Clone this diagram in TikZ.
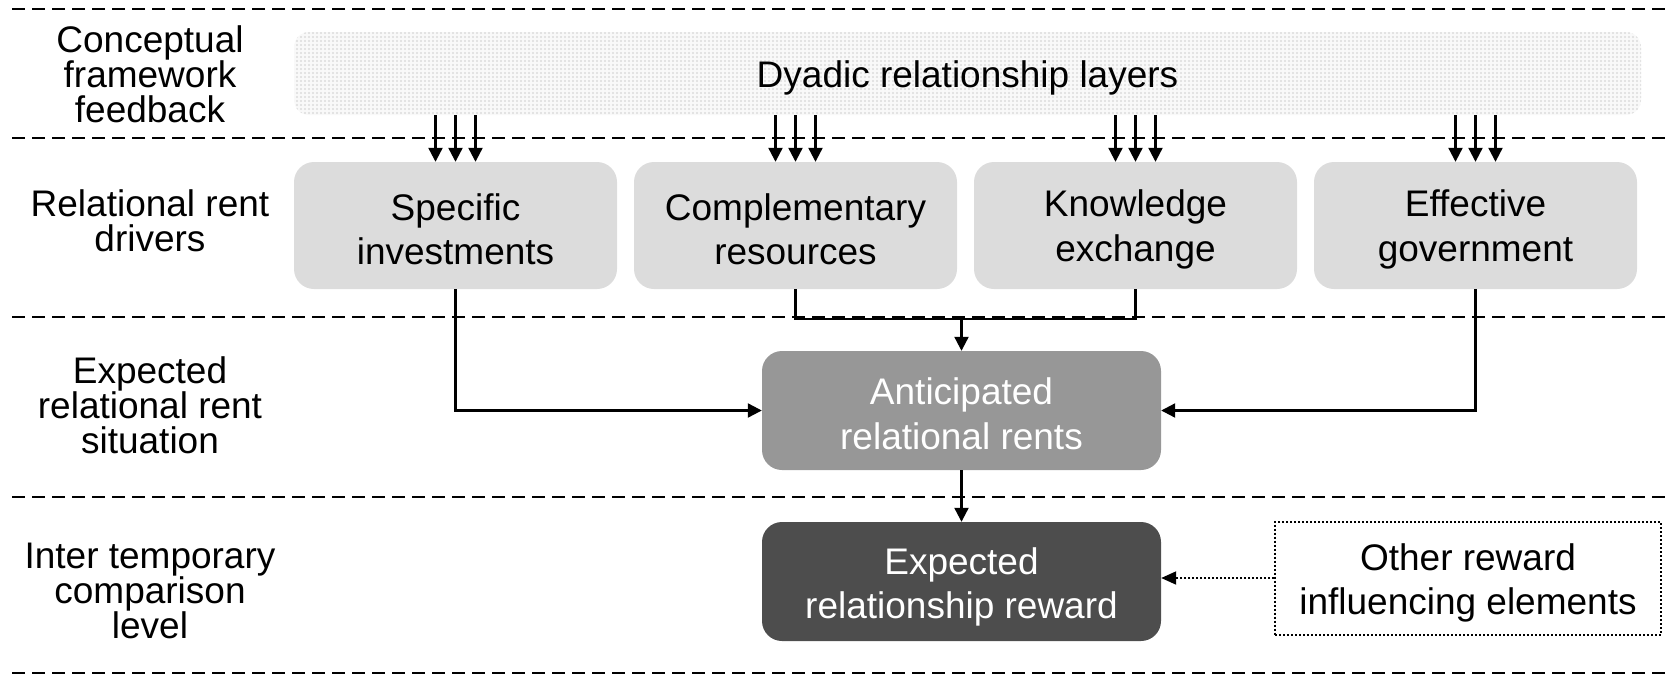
\documentclass[tikz,border=0pt]{standalone}
\usepackage{fontspec}
\setmainfont{Liberation Sans}
\usetikzlibrary{arrows.meta,patterns}

\definecolor{driverfill}{HTML}{DCDCDC}
\definecolor{rentfill}{HTML}{979797}
\definecolor{rewardfill}{HTML}{4D4D4D}

% coarse dot screen for the feedback layer
\pgfdeclarepatternformonly{layerdots}{\pgfqpoint{-1pt}{-1pt}}{\pgfqpoint{3pt}{3pt}}{\pgfqpoint{4pt}{4pt}}{%
  \pgfpathcircle{\pgfqpoint{1pt}{1pt}}{1.05pt}\pgfusepath{fill}}

\tikzset{
  separator/.style={line width=2pt, dash pattern=on 13pt off 7pt},
  levellabel/.style={align=center, font=\fontsize{37}{35}\selectfont},
  boxtext/.style={align=center, font=\fontsize{37}{44.5}\selectfont},
  driver/.style={fill=driverfill, rounded corners=20pt,
    minimum width=323pt, minimum height=127pt, inner sep=0pt},
  outcome/.style={rounded corners=20pt,
    minimum width=399pt, minimum height=119pt, inner sep=0pt},
  arr/.style={line width=2.2pt, -{Triangle[length=14pt,width=14pt]}},
  dotline/.style={line width=2pt, dash pattern=on 2pt off 2pt},
  dotarr/.style={dotline, -{Triangle[length=15pt,width=13pt]}},
}

\begin{document}
\begin{tikzpicture}[x=1pt,y=-1pt]
\useasboundingbox (0,0) rectangle (1666,678);

% level separators
\foreach \yy in {8.5,138,317,497,672.5}
  \draw[separator] (12,\yy) -- (1666,\yy);

% level labels
\node[levellabel] (l1) at (150,74)  {Conceptual\\framework\\feedback};
\node[levellabel] (l2) at (150,221) {Relational rent\\drivers};
\node[levellabel] (l3) at (150,405) {Expected\\relational rent\\situation};
\node[levellabel] (l4) at (150,590.5) {Inter temporary\\comparison\\level};

% feedback layer
\node[rounded corners=15pt, minimum width=1347pt, minimum height=83pt,
      preaction={fill=gray!5}, pattern=layerdots, pattern color=gray!28]
      (dyad) at (967.5,73.5) {};
\node[boxtext] (dyad-t) at ([yshift=-4pt]dyad.center) {Dyadic relationship layers};

% relational rent drivers
\node[driver] (spec) at (455.5,225.5)  {};
\node[driver] (comp) at (795.5,225.5)  {};
\node[driver] (know) at (1135.5,225.5) {};
\node[driver] (gov)  at (1475.5,225.5) {};
\node[boxtext] (spec-t) at ([yshift=-4pt]spec.center) {Specific\\investments};
\node[boxtext] (comp-t) at ([yshift=-4pt]comp.center) {Complementary\\resources};
\node[boxtext] (know-t) at ([yshift=-4pt]know.center) {Knowledge\\exchange};
\node[boxtext] (gov-t)  at ([yshift=-4pt]gov.center)  {Effective\\government};

% expected rents and reward
\node[outcome, fill=rentfill]   (rent)   at (961.5,410.5) {};
\node[outcome, fill=rewardfill] (reward) at (961.5,581.5) {};
\node[draw, dotline, minimum width=386pt, minimum height=113pt, inner sep=0pt]
      (other) at (1468,578) {};
\node[boxtext, text=white] (rent-t)   at ([yshift=-3.5pt]rent.center)   {Anticipated\\relational rents};
\node[boxtext, text=white] (reward-t) at ([yshift=-5.5pt]reward.center) {Expected\\relationship reward};
\node[boxtext] (other-t) at ([yshift=-5pt]other.center) {Other reward\\influencing elements};

% feedback into each driver
\foreach \b in {spec,comp,know,gov}
  \foreach \d in {-20,0,20}
    \draw[arr] ([xshift=\d pt]\b.north |- dyad.south) -- ([xshift=\d pt]\b.north);

% drivers into anticipated rents
\coordinate (join) at (rent.north |- 0,319);
\draw[line width=2.2pt] (comp.south) |- (join) -| (know.south);
\draw[arr] (join) -- (rent.north);
\draw[arr] (spec.south) |- (rent.west);
\draw[arr] (gov.south) |- (rent.east);

% rents into reward
\draw[arr] (rent.south) -- (reward.north);
\draw[dotarr] (other.west) -- (other.west -| reward.east);
\end{tikzpicture}
\end{document}
